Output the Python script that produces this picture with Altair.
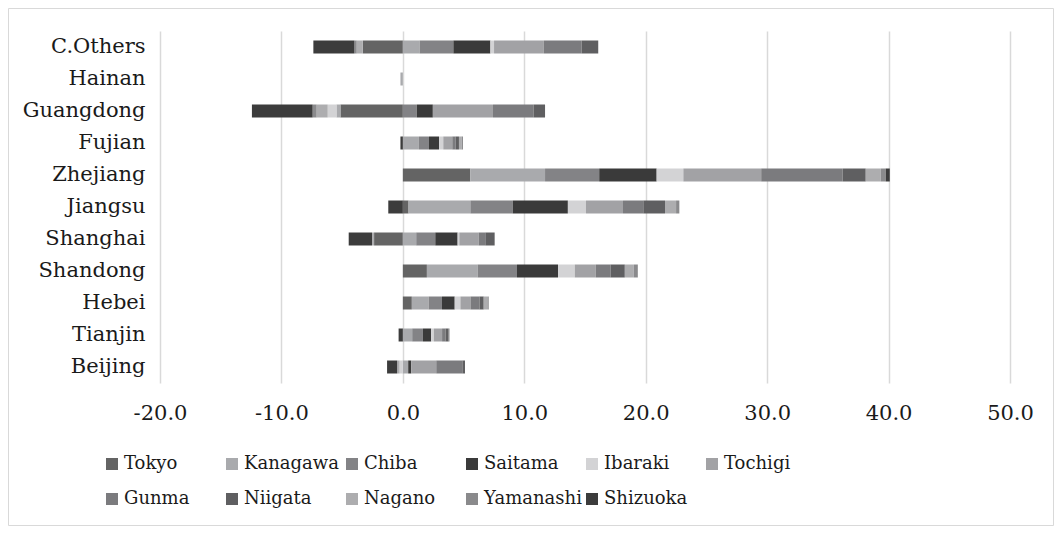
import altair as alt
import pandas as pd

categories = ["C.Others", "Hainan", "Guangdong", "Fujian", "Zhejiang", "Jiangsu",
              "Shanghai", "Shandong", "Hebei", "Tianjin", "Beijing"]
series = ["Tokyo", "Kanagawa", "Chiba", "Saitama", "Ibaraki", "Tochigi",
          "Gunma", "Niigata", "Nagano", "Yamanashi", "Shizuoka"]
colors = ["#646464", "#a9aaad", "#838386", "#3a3a3a", "#d3d3d5", "#a2a2a5",
          "#7b7b7e", "#5f5f61", "#adadaf", "#8a8a8c", "#3c3c3c"]

# values per series, in the order of `categories`
tokyo =     [-3.30, 0.00, -5.14, 0.00, 5.55, 0.47, -2.37, 1.98, 0.74, 0.00, 0.00]
kanagawa =  [1.38, -0.20, -0.33, 1.32, 6.16, 5.09, 1.10, 4.18, 1.38, 0.77, 0.44]
chiba =     [2.78, 0.00, 1.15, 0.83, 4.46, 3.49, 1.57, 3.24, 1.10, 0.88, 0.00]
saitama =   [3.05, 0.00, 1.32, 0.83, 4.73, 4.54, 1.84, 3.38, 1.05, 0.68, 0.25]
ibaraki =   [0.30, 0.00, -0.72, 0.35, 2.20, 1.49, 0.14, 1.38, 0.47, 0.22, -0.27]
tochigi =   [4.10, 0.00, 4.95, 0.74, 6.41, 3.05, 1.59, 1.73, 0.83, 0.68, 2.06]
gunma =     [3.11, 0.00, 3.36, 0.28, 6.71, 1.67, 0.55, 1.21, 0.74, 0.28, 2.15]
niigata =   [1.37, 0.00, 0.93, 0.27, 1.90, 1.79, 0.77, 1.18, 0.35, 0.27, 0.22]
nagano =    [-0.50, 0.00, -0.91, 0.22, 1.24, 0.91, -0.17, 0.74, 0.35, 0.08, -0.20]
yamanashi = [-0.19, 0.00, -0.33, 0.11, 0.41, 0.27, 0.00, 0.33, 0.06, 0.00, 0.00]
shizuoka =  [-3.38, 0.00, -5.00, -0.20, 0.33, -1.20, -1.92, 0.00, 0.00, -0.35, -0.83]

x_ticks = [-20, -10, 0, 10, 20, 30, 40, 50]

all_values = [tokyo, kanagawa, chiba, saitama, ibaraki, tochigi,
              gunma, niigata, nagano, yamanashi, shizuoka]
rows = []
for si, (s, vals) in enumerate(zip(series, all_values)):
    for c, v in zip(categories, vals):
        rows.append({"category": c, "series": s, "value": v, "idx": si})
df = pd.DataFrame(rows)

FONT = "DejaVu Serif"

bars = alt.Chart(df).mark_bar(size=13).encode(
    x=alt.X("value:Q", stack="zero",
            scale=alt.Scale(domain=[-20, 50], nice=False, zero=False),
            axis=alt.Axis(values=x_ticks, title=None, grid=True,
                          labelExpr="datum.value < 0 ? '-' + format(-datum.value, '.1f') : format(datum.value, '.1f')",
                          gridColor="#d9d9d9", gridWidth=1.5, domain=False,
                          ticks=False, labelPadding=19, labelFlush=False)),
    y=alt.Y("category:N", sort=categories,
            axis=alt.Axis(title=None, domain=False, ticks=False, grid=False,
                          labelPadding=15)),
    color=alt.Color("series:N", sort=series,
                    scale=alt.Scale(domain=series, range=colors),
                    legend=alt.Legend(title=None, orient="none", legendX=-57,
                                      legendY=424, columns=6,
                                      direction="horizontal",
                                      symbolType="square", symbolSize=144,
                                      symbolStrokeWidth=0, labelFont=FONT,
                                      labelFontSize=18, labelColor="#1a1a1a",
                                      gridAlign="all", columnPadding=1,
                                      rowPadding=17, labelOffset=3, padding=0)),
    order=alt.Order("idx:Q", sort="ascending"),
)

border = alt.Chart(alt.Data(values=[{"a": 1}])).mark_rect(
    fillOpacity=0, stroke="#d9d9d9", strokeWidth=1
).encode(
    x=alt.value(-151.5), x2=alt.value(893.5),
    y=alt.value(-22.5), y2=alt.value(494.5)
)

chart = alt.layer(border, bars).properties(
    width=850, height=352,
    autosize=alt.AutoSizeParams(type="none"),
    padding={"left": 152, "top": 23, "right": 44, "bottom": 143},
).configure_view(stroke=None).configure_axis(
    labelFont=FONT, labelFontSize=21, labelColor="#1a1a1a"
)

chart.save("out.html", embed_options={"renderer": "svg", "actions": False})
